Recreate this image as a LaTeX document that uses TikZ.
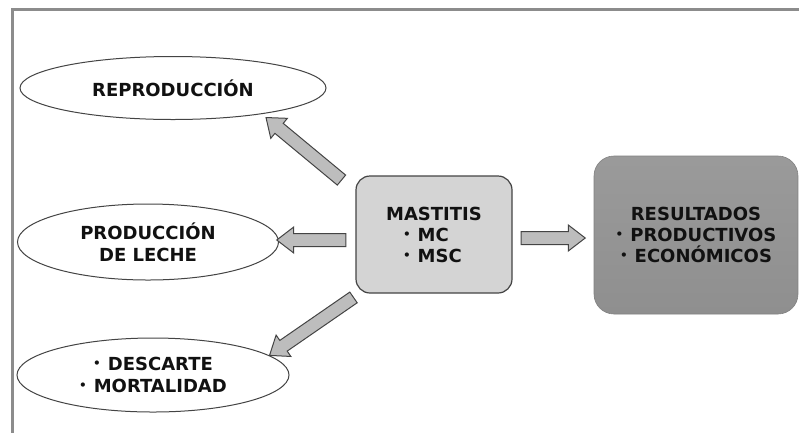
\documentclass[tikz,border=0pt]{standalone}
\usepackage{fontspec}
\setmainfont{DejaVu Sans}
\usepackage{tikz}
\usetikzlibrary{shapes.geometric,shapes.arrows}
\definecolor{ink}{HTML}{111111}
\definecolor{edge}{HTML}{444444}
\definecolor{frame}{HTML}{8C8C8C}
\definecolor{light}{HTML}{D4D4D4}
\definecolor{dark}{HTML}{8F8F8F}
\definecolor{arrowfill}{HTML}{BDBDBD}
\newcommand{\bul}{\raisebox{3pt}{\fontsize{12}{12}\selectfont •}\hspace{7pt}}
\tikzset{
  effect/.style={ellipse, draw=edge, line width=1pt, fill=white, inner sep=0pt,
    text=ink, align=center, font=\bfseries\fontsize{18}{22}\selectfont},
  cause/.style={rectangle, rounded corners=14pt, draw=edge, line width=1.2pt, fill=light,
    text=ink, align=center, font=\bfseries\fontsize{18}{21}\selectfont},
  outcome/.style={rectangle, rounded corners=20pt, draw=dark!90!black, line width=0.6pt,
    top color=dark!90!white, bottom color=dark, text=ink, align=center,
    font=\bfseries\fontsize{18}{21}\selectfont},
  fat/.style={single arrow, draw=edge, line width=1pt, fill=arrowfill, inner xsep=0pt,
    inner ysep=6pt, single arrow head extend=6.5pt, single arrow tip angle=75,
    sloped, allow upside down},
}
\begin{document}
\begin{tikzpicture}[x=1pt,y=-1pt]
  \useasboundingbox (0,0) rectangle (799,432);
  \fill[white] (0,0) rectangle (799,432);
  % outer frame
  \draw[frame, line width=3pt] (12,434) -- (12,9) -- (801,9);

  % effects on the left
  \node[effect, minimum width=306, minimum height=63] (repro) at (173,88) {REPRODUCCIÓN};
  \node[effect, minimum width=261, minimum height=76] (leche) at (148,242) {PRODUCCIÓN\\DE LECHE};
  \node[effect, minimum width=272, minimum height=74] (descarte) at (153,375)
    {\bul DESCARTE\\\bul MORTALIDAD};

  % center and right
  \node[cause, minimum width=156, minimum height=117] (mast) at (434,234.5)
    {MASTITIS\\\makebox[62pt][l]{\bul MC}\\\makebox[62pt][l]{\bul MSC}};
  \node[outcome, minimum width=204, minimum height=158] (res) at (696,235)
    {RESULTADOS\\\bul PRODUCTIVOS\\\bul ECONÓMICOS};

  % arrows
  \coordinate (t1) at (345,183); \coordinate (h1) at (269,120);
  \coordinate (t2) at (350,240); \coordinate (h2) at (281,240);
  \coordinate (t3) at (357,295); \coordinate (h3) at (273,353);
  \coordinate (t4) at (517,238); \coordinate (h4) at (581,238);
  \path (t1) -- node[fat, minimum height=98pt] {} (h1);
  \path (t2) -- node[fat, minimum height=69pt] {} (h2);
  \path (t3) -- node[fat, minimum height=102pt] {} (h3);
  \path (t4) -- node[fat, minimum height=64pt] {} (h4);
\end{tikzpicture}
\end{document}
